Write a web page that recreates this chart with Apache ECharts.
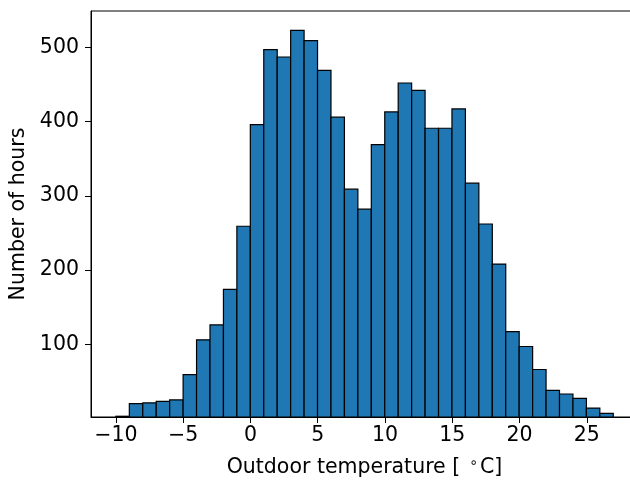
<!DOCTYPE html>
<html>
<head>
<meta charset="utf-8">
<script src="https://cdn.jsdelivr.net/npm/echarts@6/dist/echarts.min.js"></script>
<style>
  html, body { margin: 0; padding: 0; background: #fff; }
  #chart { width: 630px; height: 481px; }
</style>
</head>
<body>
<div id="chart"></div>
<script>
// histogram of outdoor temperature, 37 bins starting at -10 C
const binStart = -10;
const binWidth = 0.999;
const hourCounts = [
  3, 20, 21, 23, 25, 59, 106, 126, 174, 259,
  396, 497, 487, 523, 509, 469, 406, 309, 282, 369,
  413, 452, 442, 391, 391, 417, 317, 262, 208, 117,
  97, 66, 38, 33, 27, 14, 7
];
const xTicks = [-10, -5, 0, 5, 10, 15, 20, 25];
const yTicks = [100, 200, 300, 400, 500];

const yMin = 2;
const bins = hourCounts.map(function (c, i) {
  const x0 = binStart + i * binWidth;
  return [x0, x0 + binWidth, c];
});

const font = 'DejaVu Sans';
const fs = 20.5;
const chart = echarts.init(document.getElementById('chart'));

chart.setOption({
  animation: false,
  grid: {
    left: 91, right: -8, top: 11, bottom: 64,
    outerBoundsMode: 'none',
    show: true, borderColor: '#000', borderWidth: 1
  },
  xAxis: {
    type: 'value',
    min: -11.85,
    max: 28.8,
    splitLine: { show: false },
    axisLine: { show: true, onZero: false, lineStyle: { color: '#000', width: 1 } },
    axisTick: { show: true, length: 6, lineStyle: { color: '#000' }, customValues: xTicks },
    axisLabel: {
      customValues: xTicks,
      color: '#000', fontFamily: font, fontSize: fs, margin: 8,
      formatter: function (v) { return String(v).replace('-', '\u2212'); }
    },
    name: 'Outdoor temperature [{sup|\u2218}C]',
    nameLocation: 'middle',
    nameGap: 39,
    nameTextStyle: {
      color: '#000', fontFamily: font, fontSize: fs,
      rich: { sup: { fontSize: 14, verticalAlign: 'top', padding: [0, 2, 9, 9], fontFamily: font, color: '#000' } }
    }
  },
  yAxis: {
    type: 'value',
    min: yMin,
    max: 549,
    splitLine: { show: false },
    axisLine: { show: true, onZero: false, lineStyle: { color: '#000', width: 1 } },
    axisTick: { show: true, length: 6, lineStyle: { color: '#000' }, customValues: yTicks },
    axisLabel: { customValues: yTicks, color: '#000', fontFamily: font, fontSize: fs, margin: 12 },
    name: 'Number of hours',
    nameLocation: 'middle',
    nameGap: 57,
    nameTextStyle: { color: '#000', fontFamily: font, fontSize: fs }
  },
  series: [{
    type: 'custom',
    data: bins,
    encode: { x: [0, 1], y: 2 },
    renderItem: function (params, api) {
      const p0 = api.coord([api.value(0), yMin]);
      const p1 = api.coord([api.value(1), api.value(2)]);
      return {
        type: 'rect',
        shape: { x: p0[0], y: p1[1], width: p1[0] - p0[0], height: p0[1] - p1[1] },
        style: { fill: '#1f77b4', stroke: '#000', lineWidth: 1.2 }
      };
    }
  }]
});
</script>
</body>
</html>
